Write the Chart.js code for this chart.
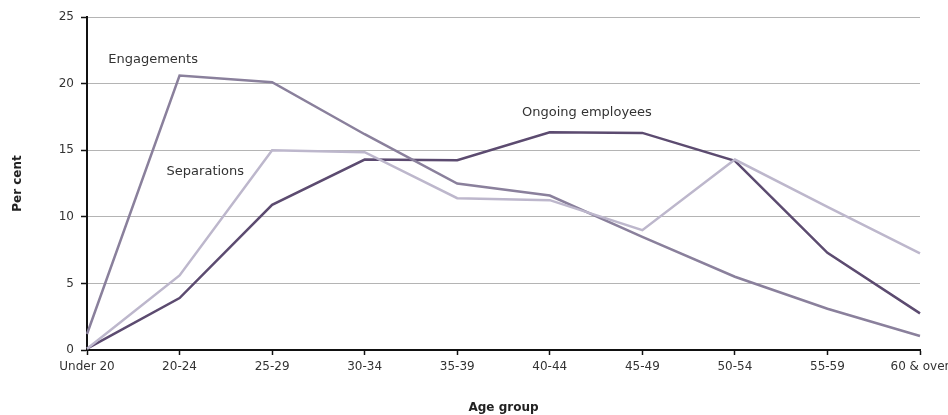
<!DOCTYPE html>
<html>
<head>
<meta charset="utf-8">
<script src="https://cdn.jsdelivr.net/npm/chart.js@4"></script>
<style>
  html, body { margin: 0; padding: 0; background: #fff; }
  #wrap { width: 948px; height: 415px; position: relative; }
</style>
</head>
<body>
<div id="wrap"><canvas id="ageChart"></canvas></div>
<script>
const ageGroups = ['Under 20', '20-24', '25-29', '30-34', '35-39', '40-44', '45-49', '50-54', '55-59', '60 & over'];
const engagements = [1.2, 20.6, 20.1, 16.2, 12.5, 11.6, 8.5, 5.5, 3.1, 1.05];
const separations = [0.1, 5.6, 15.0, 14.85, 11.4, 11.25, 9.0, 14.3, 10.75, 7.25];
const ongoing = [0.1, 3.9, 10.9, 14.3, 14.25, 16.35, 16.3, 14.2, 7.3, 2.75];
const yTicks = [0, 5, 10, 15, 20, 25];

const font = "'DejaVu Sans', sans-serif";

// series labels placed next to the lines (x index, y value)
const lineLabels = [
  { text: 'Engagements', x: 0.23, y: 21.8 },
  { text: 'Separations', x: 0.86, y: 13.4 },
  { text: 'Ongoing employees', x: 4.7, y: 17.8 },
];

const lineLabelPlugin = {
  id: 'lineLabels',
  afterDatasetsDraw(chart) {
    const { ctx, scales } = chart;
    ctx.save();
    ctx.font = '13px ' + font;
    ctx.fillStyle = '#333';
    ctx.textBaseline = 'middle';
    ctx.textAlign = 'left';
    lineLabels.forEach(l => {
      ctx.fillText(l.text, scales.x.getPixelForValue(l.x), scales.y.getPixelForValue(l.y));
    });
    ctx.restore();
  },
};

const ds = (label, data, color) => ({
  label,
  data,
  borderColor: color,
  backgroundColor: color,
  borderWidth: 2.5,
  pointRadius: 0,
  tension: 0,
});

new Chart(document.querySelector('#ageChart').getContext('2d'), {
  type: 'line',
  data: {
    labels: ageGroups,
    datasets: [
      ds('Separations', separations, '#bdb7cc'),
      ds('Engagements', engagements, '#8a809c'),
      ds('Ongoing employees', ongoing, '#5c4b70'),
    ],
  },
  options: {
    responsive: true,
    maintainAspectRatio: false,
    animation: false,
    layout: { padding: { left: 11, right: 0, top: 17, bottom: 0 } },
    plugins: {
      legend: { display: false },
      tooltip: { enabled: false },
    },
    scales: {
      x: {
        offset: false,
        grid: {
          drawOnChartArea: false,
          drawTicks: true,
          tickLength: 5,
          tickColor: '#111',
          tickWidth: 1.5,
        },
        border: { color: '#111', width: 2 },
        ticks: {
          color: '#333',
          font: { family: font, size: 12 },
          maxRotation: 0,
          autoSkip: false,
          padding: 5,
        },
        title: {
          display: true,
          text: 'Age group',
          color: '#222',
          font: { family: font, size: 12, weight: 'bold' },
          padding: { top: 14, bottom: 0 },
        },
        afterFit: scale => {
          scale.height = 65;
          scale.paddingRight = 28;
        },
      },
      y: {
        min: 0,
        max: 25,
        afterBuildTicks: scale => {
          scale.ticks = yTicks.map(v => ({ value: v }));
        },
        grid: {
          color: '#b4b4b4',
          lineWidth: 1,
          drawTicks: true,
          tickLength: 6,
          tickColor: '#111',
          tickWidth: 1.5,
        },
        border: { color: '#111', width: 2 },
        ticks: {
          color: '#333',
          font: { family: font, size: 12 },
          padding: 7,
        },
        title: {
          display: true,
          text: 'Per cent',
          color: '#222',
          font: { family: font, size: 12, weight: 'bold' },
          padding: { top: 0, bottom: 20 },
        },
        afterFit: scale => { scale.width = 76; },
      },
    },
  },
  plugins: [lineLabelPlugin],
});
</script>
</body>
</html>
